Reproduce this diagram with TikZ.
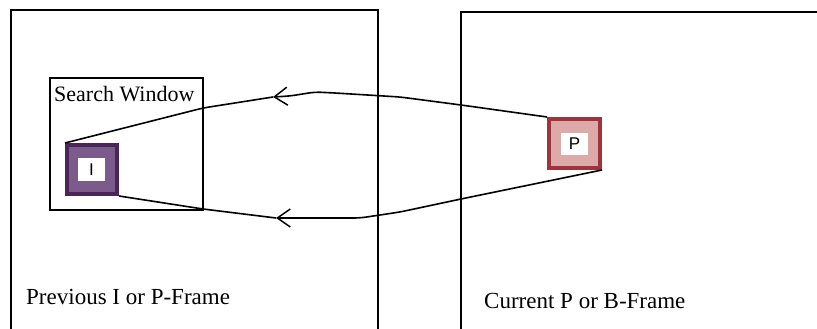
\documentclass[tikz,border=0pt]{standalone}
\usepackage{fontspec}
\setmainfont{Liberation Serif}
\newfontfamily\sansf{Liberation Sans}
\usetikzlibrary{arrows.meta}
\definecolor{idark}{HTML}{4A2558}
\definecolor{ifill}{HTML}{7B5B8C}
\definecolor{pdark}{HTML}{A0343C}
\definecolor{pfill}{HTML}{DCAAA8}
\begin{document}
\begin{tikzpicture}[x=1pt,y=-1pt,
  frameline/.style={line width=1.8pt},
  lbl/.style={anchor=base west,inner sep=0pt,font=\fontsize{22}{26}\selectfont},
  flbl/.style={anchor=base west,inner sep=0pt,font=\fontsize{23}{27}\selectfont},
  blockbox/.style={line width=4pt,inner sep=0pt},
  whitebox/.style={fill=white,inner sep=0pt,font=\sansf\fontsize{17}{20}\selectfont},
  conn/.style={line width=1.6pt,rounded corners=6pt},
  barb/.style={-{Straight Barb[length=13pt,width=18pt,line width=1.5pt]}}]
\useasboundingbox (0,0) rectangle (817,329);
% frames
\draw[frameline] (11,329) -- (11,10) -- (378,10) -- (378,329);
\draw[frameline] (461,329) -- (461,12) -- (817,12);
% search window
\node[draw,line width=1.4pt,minimum width=153pt,minimum height=132pt,inner sep=0pt] (sw) at (126.5,144) {};
\node[lbl] (swl) at (54,102) {Search Window};
% I block
\node[blockbox,draw=idark,fill=ifill,minimum width=50pt,minimum height=49pt] (I) at (92,169.5) {};
\node[whitebox,minimum width=27pt,minimum height=23pt] (Il) at (91.5,169.5) {I};
% P block
\node[blockbox,draw=pdark,fill=pfill,minimum width=51pt,minimum height=49pt] (P) at (574.5,143.5) {};
\node[whitebox,minimum width=27pt,minimum height=22pt] (Pl) at (574.5,144) {P};
% arrow tip positions
\coordinate (ua) at (273,97);
\coordinate (la) at (276,218);
% upper connector
\draw[conn,barb] (P.north west) -- (461,105) -- (400,97) -- (335,93) -- (315,92) -- (290,96) -- (ua);
\draw[conn] (ua) -- (203,108) -- (I.north west);
% lower connector
\draw[conn,barb] (P.south east) -- (461,199) -- (400,212) -- (360,218) -- (la);
\draw[conn] (la) -- (203,209) -- (I.south east);
% frame labels
\node[flbl] (prev) at (26,304) {Previous I or P-Frame};
\node[flbl] (cur) at (484,308) {Current P or B-Frame};
\end{tikzpicture}
\end{document}
